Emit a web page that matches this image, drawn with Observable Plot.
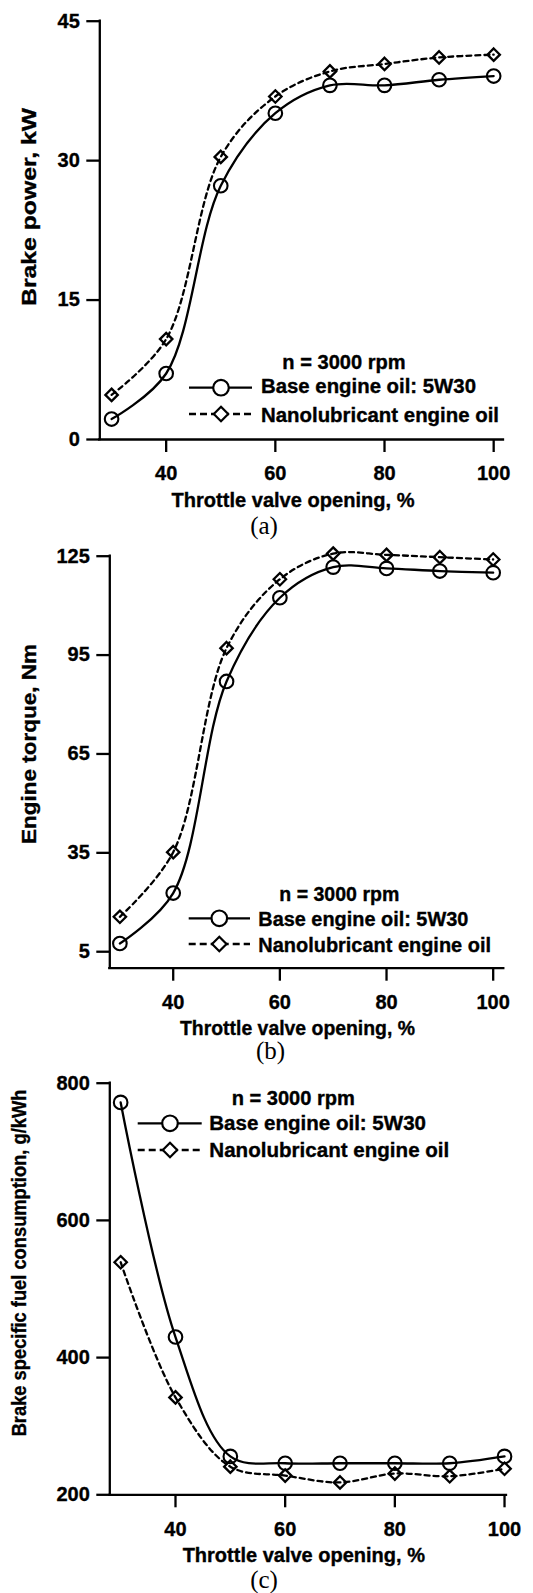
<!DOCTYPE html>
<html><head><meta charset="utf-8">
<script src="https://cdn.jsdelivr.net/npm/d3@7"></script>
<script src="https://cdn.jsdelivr.net/npm/@observablehq/plot@0.6"></script>
<style>
body{margin:0;background:#fff;}
#wrap{position:relative;width:533px;height:1593px;overflow:hidden;background:#fff;}
#wrap svg{position:absolute;left:0;}
#wrap svg text.bold, #wrap svg [aria-label$="tick label"] text{stroke:#000;stroke-width:0.35px;}
</style></head><body><div id="wrap"></div>
<script>
// ---- data ----
const throttle = [30, 40, 50, 60, 70, 80, 90, 100];
const powerBase = [2.2, 7.1, 27.3, 35.1, 38.1, 38.1, 38.7, 39.1];
const powerNano = [4.8, 10.8, 30.4, 36.9, 39.6, 40.4, 41.1, 41.4];
const torqueBase = [7.5, 22.8, 87.0, 112.4, 121.7, 121.3, 120.5, 120.0];
const torqueNano = [15.6, 35.2, 97.1, 118.0, 125.8, 125.4, 124.7, 124.0];
const bsfcBase = [772, 430, 256, 246, 246, 246, 246, 256];
const bsfcNano = [539, 342, 241, 228, 218, 231, 227, 238];

const xTicks = [40, 60, 80, 100];
const powerTicks = [0, 15, 30, 45];
const torqueTicks = [5, 35, 65, 95, 125];
const bsfcTicks = [200, 400, 600, 800];

const xLabel = "Throttle valve opening, %";
const yLabels = ["Brake power, kW", "Engine torque, Nm", "Brake specific fuel consumption, g/kWh"];
const captions = ["(a)", "(b)", "(c)"];
const legendTitle = "n = 3000 rpm";
const seriesNames = ["Base engine oil: 5W30", "Nanolubricant engine oil"];

// ---- layout ----
const SANS = "'Liberation Sans', Arial, Helvetica, sans-serif";
const SERIF = "'Liberation Serif', 'Times New Roman', serif";

const charts = [
  {base: powerBase, nano: powerNano, yTicks: powerTicks, yDomain: [0, 45], xDomain: [27.84, 101.8],
   top: 0, height: 545, mt: 20.7, mb: 106, ml: 99.3, mr: 30,
   yl: {x: 36, y: 207, w: 198}, xl: {x: 293, y: 507.2, w: 243}, cap: {x: 264, y: 534},
   lg: {hx: 344, hy: 369, tx: 261, by: 393.3, ny: 421.7, lx1: 189, lx2: 252, cx: 221, y1: 387.7, y2: 414,
        hw: 123.3, bw: 215, nw: 238}},
  {base: torqueBase, nano: torqueNano, yTicks: torqueTicks, yDomain: [0, 125], xDomain: [28.11, 101.99],
   top: 545, height: 527, mt: 10.7, mb: 104.3, ml: 109.3, mr: 29.7,
   yl: {x: 36, y: 199, w: 200}, xl: {x: 297.5, y: 489.7, w: 235}, cap: {x: 270.5, y: 514},
   lg: {hx: 339.3, hy: 355.7, tx: 258.3, by: 380.7, ny: 407.3, lx1: 188.7, lx2: 250, cx: 219.3, y1: 373.3, y2: 399,
        hw: 120, bw: 210, nw: 232.7}},
  {base: bsfcBase, nano: bsfcNano, yTicks: bsfcTicks, yDomain: [200, 800], xDomain: [28.02, 100.36],
   top: 1072, height: 521, mt: 10.7, mb: 98.7, ml: 109.3, mr: 27,
   yl: {x: 26, y: 191, w: 346.7}, xl: {x: 303.8, y: 490, w: 242.3}, cap: {x: 264, y: 515.5},
   lg: {hx: 293.3, hy: 33, tx: 209.3, by: 58, ny: 84.7, lx1: 137.7, lx2: 201.7, cx: 170, y1: 51.3, y2: 78,
        hw: 123.3, bw: 216.7, nw: 240}}
];

const wrap = document.getElementById("wrap");

function fitText(sel, w) {
  return sel.attr("class", "bold").attr("textLength", w).attr("lengthAdjust", "spacingAndGlyphs");
}

charts.forEach((c, k) => {
  const base = throttle.map((t, i) => ({x: t, y: c.base[i]}));
  const nano = throttle.map((t, i) => ({x: t, y: c.nano[i]}));
  const svg = Plot.plot({
    width: 533, height: c.height,
    marginTop: c.mt, marginBottom: c.mb, marginLeft: c.ml, marginRight: c.mr,
    style: {fontFamily: SANS, fontSize: "20px", fontWeight: "bold", color: "#000", background: "transparent", overflow: "visible"},
    x: {domain: c.xDomain},
    y: {domain: c.yDomain},
    marks: [
      Plot.ruleX([c.xDomain[0]], {stroke: "#000", strokeWidth: 2.3, strokeLinecap: "square"}),
      Plot.ruleY([c.yDomain[0]], {stroke: "#000", strokeWidth: 2.3, strokeLinecap: "square"}),
      Plot.axisX({ticks: xTicks, tickSize: 13, tickPadding: 13.5, strokeWidth: 2.3, label: null, tickFormat: d => String(d)}),
      Plot.axisY({ticks: c.yTicks, tickSize: 13, tickPadding: 7, strokeWidth: 2.3, label: null, tickFormat: d => String(d)}),
      Plot.line(base, {x: "x", y: "y", curve: "catmull-rom", stroke: "#000", strokeWidth: 2.3}),
      Plot.line(nano, {x: "x", y: "y", curve: "catmull-rom", stroke: "#000", strokeWidth: 2.3, strokeDasharray: "5,4"}),
      Plot.dot(nano, {x: "x", y: "y", symbol: "diamond2", r: 5.6, fill: "none", stroke: "#000", strokeWidth: 2.3}),
      Plot.dot(base, {x: "x", y: "y", symbol: "circle", r: 6.8, fill: "none", stroke: "#000", strokeWidth: 2.1})
    ]
  });
  svg.style.top = c.top + "px";
  svg.style.position = "absolute";
  const s = d3.select(svg);
  const g = s.append("g").attr("font-family", SANS).attr("font-size", 19.5).attr("font-weight", "bold").attr("fill", "#000");
  // axis titles
  fitText(g.append("text").attr("x", c.xl.x).attr("y", c.xl.y).attr("text-anchor", "middle").text(xLabel), c.xl.w);
  fitText(g.append("text").attr("transform", `translate(${c.yl.x},${c.yl.y}) rotate(-90)`).attr("text-anchor", "middle").text(yLabels[k]), c.yl.w);
  // legend
  const L = c.lg;
  fitText(g.append("text").attr("x", L.hx).attr("y", L.hy).attr("text-anchor", "middle").text(legendTitle), L.hw);
  g.append("line").attr("x1", L.lx1).attr("x2", L.lx2).attr("y1", L.y1).attr("y2", L.y1).attr("stroke", "#000").attr("stroke-width", 2.3);
  g.append("circle").attr("cx", L.cx).attr("cy", L.y1).attr("r", 7.8).attr("fill", "#fff").attr("stroke", "#000").attr("stroke-width", 2.2);
  g.append("line").attr("x1", L.lx1).attr("x2", L.lx2).attr("y1", L.y2).attr("y2", L.y2).attr("stroke", "#000").attr("stroke-width", 2.3).attr("stroke-dasharray", "7,4");
  g.append("path").attr("d", d3.symbol(d3.symbolDiamond2, 132)()).attr("transform", `translate(${L.cx},${L.y2})`).attr("fill", "#fff").attr("stroke", "#000").attr("stroke-width", 2.2);
  fitText(g.append("text").attr("x", L.tx).attr("y", L.by).attr("text-anchor", "start").text(seriesNames[0]), L.bw);
  fitText(g.append("text").attr("x", L.tx).attr("y", L.ny).attr("text-anchor", "start").text(seriesNames[1]), L.nw);
  // caption
  s.append("text").attr("x", c.cap.x).attr("y", c.cap.y).attr("text-anchor", "middle")
    .attr("font-family", SERIF).attr("font-size", 25).attr("font-weight", "normal").attr("fill", "#000").text(captions[k]);
  wrap.appendChild(svg);
});
</script>
</body></html>
